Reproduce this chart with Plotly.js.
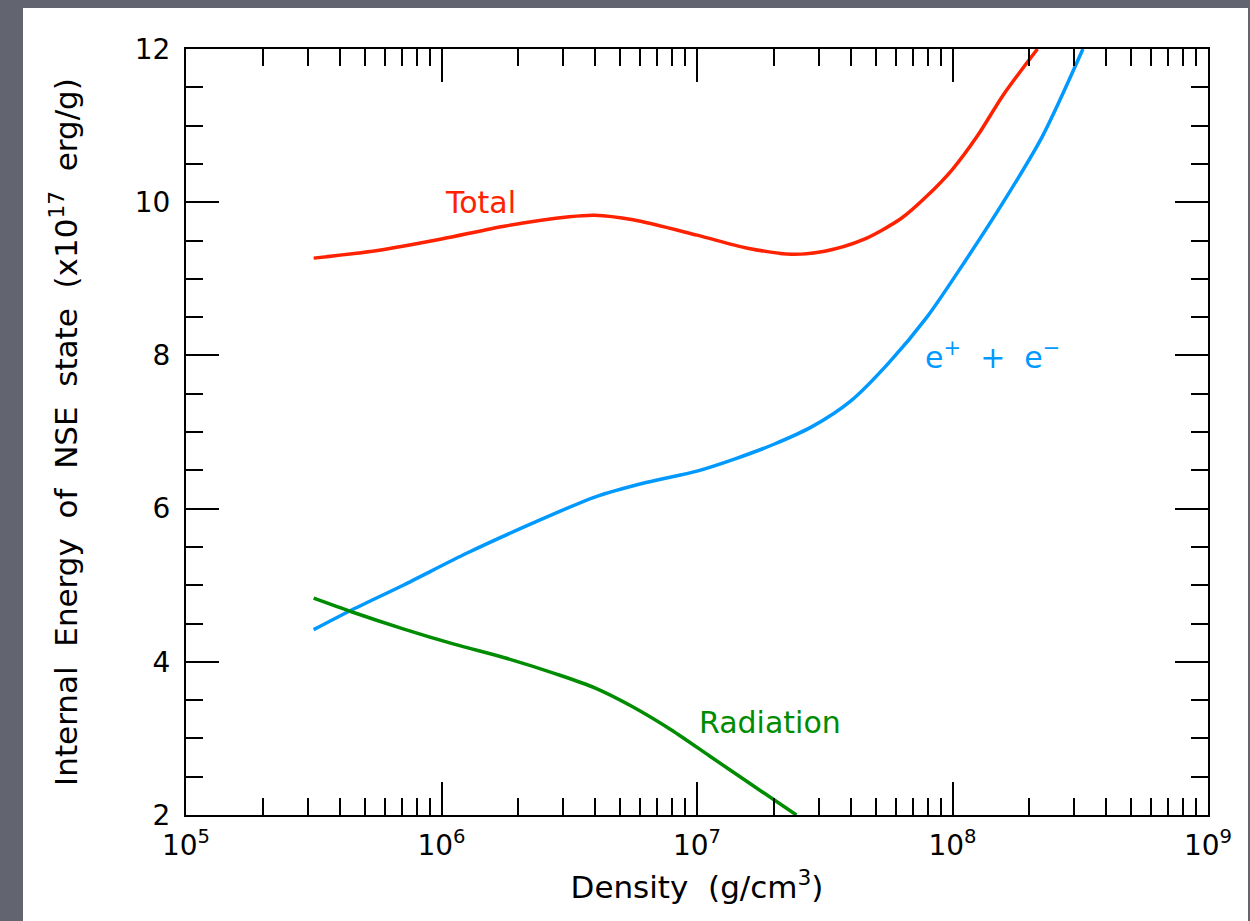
<!DOCTYPE html>
<html>
<head>
<meta charset="utf-8">
<script src="https://cdn.plot.ly/plotly-3.0.1.min.js"></script>
<style>
  html, body { margin: 0; padding: 0; background: #62656f; width: 1250px; height: 921px; overflow: hidden; }
  #chart { position: absolute; left: 23px; top: 8px; width: 1225px; height: 913px; }
</style>
</head>
<body>
<div id="chart"></div>
<script>
// Density (g/cm^3) and internal energy (x10^17 erg/g)
const totalDensity = [3.16e5, 5.62e5, 1.0e6, 1.78e6, 3.16e6, 3.98e6, 5.62e6, 1.0e7, 1.58e7, 2.34e7, 3.16e7, 4.47e7, 6.31e7, 7.94e7, 1.0e8, 1.26e8, 1.58e8, 2.15e8];
const totalEnergy  = [9.27, 9.37, 9.52, 9.69, 9.81, 9.83, 9.77, 9.57, 9.40, 9.32, 9.36, 9.51, 9.79, 10.08, 10.43, 10.88, 11.40, 12.0];

const pairDensity = [3.16e5, 4.47e5, 7.08e5, 1.26e6, 2.24e6, 3.98e6, 6.31e6, 1.0e7, 1.41e7, 2.0e7, 2.82e7, 3.98e7, 5.62e7, 7.94e7, 1.12e8, 1.58e8, 2.24e8, 3.24e8];
const pairEnergy  = [4.42, 4.68, 5.00, 5.42, 5.80, 6.15, 6.34, 6.49, 6.65, 6.84, 7.07, 7.40, 7.90, 8.50, 9.23, 10.00, 10.85, 12.0];

const radDensity = [3.16e5, 4.47e5, 7.08e5, 1.12e6, 1.78e6, 2.82e6, 3.98e6, 5.62e6, 7.94e6, 1.12e7, 1.58e7, 2.45e7];
const radEnergy  = [4.83, 4.65, 4.43, 4.23, 4.05, 3.84, 3.66, 3.41, 3.11, 2.77, 2.43, 2.0];

const xTickVals = [1e5, 1e6, 1e7, 1e8, 1e9];
const xTickText = ['10<sup>5</sup>', '10<sup>6</sup>', '10<sup>7</sup>', '10<sup>8</sup>', '10<sup>9</sup>'];
const xMinorVals = [];
[1e5, 1e6, 1e7, 1e8].forEach(d => { for (let k = 2; k <= 9; k++) xMinorVals.push(k * d); });

const seriesNames = ['Total', 'e<sup>+</sup>&nbsp;&nbsp;+&nbsp;&nbsp;e<sup>\u2212</sup>', 'Radiation'];
const colors = ['#ff2200', '#0099ff', '#008c00'];

const FONT = 'DejaVu Sans, sans-serif';
const SP = '&nbsp;&nbsp;';

const traces = [
  {x: totalDensity, y: totalEnergy, name: 'Total', mode: 'lines', line: {color: colors[0], width: 3.5, shape: 'spline', smoothing: 0.8}},
  {x: pairDensity, y: pairEnergy, name: 'e+ + e-', mode: 'lines', line: {color: colors[1], width: 3.5, shape: 'spline', smoothing: 0.8}},
  {x: radDensity, y: radEnergy, name: 'Radiation', mode: 'lines', line: {color: colors[2], width: 3.5, shape: 'spline', smoothing: 0.8}}
];

const layout = {
  width: 1225, height: 913,
  margin: {l: 163, r: 40, t: 41, b: 106},
  paper_bgcolor: '#ffffff', plot_bgcolor: '#ffffff',
  showlegend: false,
  font: {family: FONT, size: 28, color: '#000'},
  xaxis: {
    type: 'log', range: [5, 9],
    tickmode: 'array', tickvals: xTickVals, ticktext: xTickText,
    ticks: 'inside', ticklen: 33, tickwidth: 2, tickcolor: '#000',
    minor: {tickmode: 'array', tickvals: xMinorVals, ticks: 'inside', ticklen: 17, tickwidth: 2, tickcolor: '#000', showgrid: false},
    showline: true, linewidth: 2, linecolor: '#000', mirror: 'ticks',
    showgrid: false, zeroline: false,
    ticklabelstandoff: 4,
    tickfont: {family: FONT, size: 28},
    title: {text: 'Density' + SP + '(g/cm<sup>3</sup>)', font: {family: FONT, size: 31}, standoff: 16}
  },
  yaxis: {
    range: [2, 12], tickmode: 'linear', tick0: 2, dtick: 2,
    ticks: 'inside', ticklen: 33, tickwidth: 2, tickcolor: '#000',
    minor: {dtick: 0.5, ticks: 'inside', ticklen: 17, tickwidth: 2, tickcolor: '#000', showgrid: false},
    showline: true, linewidth: 2, linecolor: '#000', mirror: 'ticks',
    showgrid: false, zeroline: false,
    ticklabelstandoff: 8,
    tickfont: {family: FONT, size: 28},
    title: {text: 'Internal' + SP + 'Energy' + SP + 'of' + SP + 'NSE' + SP + 'state' + SP + '(x10<sup>17</sup>' + SP + 'erg/g)', font: {family: FONT, size: 31}, standoff: 48}
  },
  annotations: [
    {text: seriesNames[0], x: 6.151, y: 10.0, xref: 'x', yref: 'y', showarrow: false, font: {family: FONT, size: 30, color: colors[0]}},
    {text: seriesNames[1], x: 8.158, y: 8.0, xref: 'x', yref: 'y', showarrow: false, font: {family: FONT, size: 30, color: colors[1]}},
    {text: seriesNames[2], x: 7.286, y: 3.21, xref: 'x', yref: 'y', showarrow: false, font: {family: FONT, size: 30, color: colors[2]}}
  ]
};

Plotly.newPlot('chart', traces, layout, {displayModeBar: false, staticPlot: true});
</script>
</body>
</html>
